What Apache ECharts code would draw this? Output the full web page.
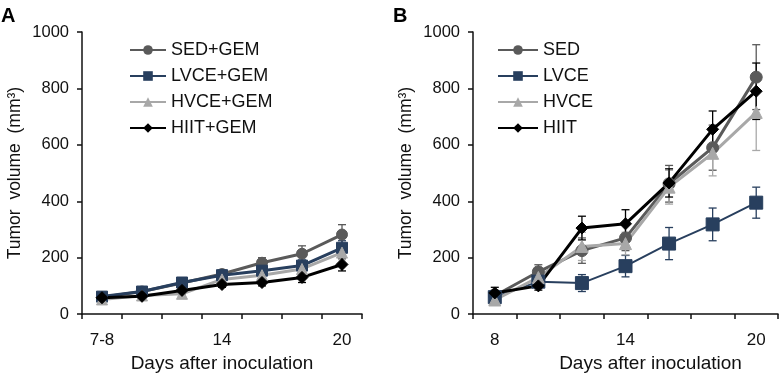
<!DOCTYPE html>
<html>
<head>
<meta charset="utf-8">
<script src="https://cdn.jsdelivr.net/npm/echarts@6/dist/echarts.min.js"></script>
<style>
html, body { margin: 0; padding: 0; background: #fff; }
#chart { width: 782px; height: 378px; }
</style>
</head>
<body>
<div id="chart"></div>
<script>
// tick labels (category axis)
var daysA = ['7-8', '', '', '14', '', '', '20'];
var daysB = ['8', '', '', '14', '', '', '20'];

// panel A: with GEM
var sedGem = [60, 80, 110, 142, 182, 214, 282];
var sedGemErr = [10, 12, 12, 12, 18, 28, 35];
var lvceGem = [62, 80, 112, 138, 154, 172, 235];
var lvceGemErr = [10, 12, 12, 12, 15, 20, 25];
var hvceGem = [52, 66, 72, 123, 138, 160, 218];
var hvceGemErr = [10, 12, 12, 12, 15, 15, 25];
var hiitGem = [58, 63, 84, 105, 112, 130, 176];
var hiitGemErr = [8, 10, 12, 10, 12, 18, 23];

// panel B: without GEM
var sed = [65, 150, 225, 270, 462, 590, 840];
var sedErr = [20, 25, 45, 45, 65, 80, 115];
var lvce = [60, 115, 110, 170, 250, 318, 395];
var lvceErr = [20, 15, 30, 38, 57, 58, 55];
var hvce = [50, 130, 240, 250, 450, 570, 715];
var hvceErr = [15, 20, 50, 40, 60, 80, 135];
var hiit = [75, 100, 305, 320, 465, 655, 790];
var hiitErr = [20, 15, 42, 50, 50, 65, 100];

var FONT = 'Liberation Sans, Arial, sans-serif';
var colSed = '#5a5a5a', colLvce = '#283f5e', colHvce = '#a8a8a8', colHiit = '#000000';

//误差线
var fnErrRender = function(params, api) {
	var x = api.value(0), y = api.value(1), e = api.value(2);
	var hi = api.coord([x, y + e]);
	var lo = api.coord([x, y - e]);
	var w = 4;
	var st = { stroke: api.visual('color'), lineWidth: 1.3 };
	return {
		type: 'group',
		children: [
			{ type: 'line', shape: { x1: hi[0], y1: hi[1], x2: lo[0], y2: lo[1] }, style: st },
			{ type: 'line', shape: { x1: hi[0] - w, y1: hi[1], x2: hi[0] + w, y2: hi[1] }, style: st },
			{ type: 'line', shape: { x1: lo[0] - w, y1: lo[1], x2: lo[0] + w, y2: lo[1] }, style: st }
		]
	};
};

var fnErrSeries = function(vals, errs, color, idx) {
	var data = [];
	for(var i = 0; i < vals.length; i++) {
		data.push([i, vals[i], errs[i]]);
	}
	return {
		type: 'custom',
		xAxisIndex: idx,
		yAxisIndex: idx,
		renderItem: fnErrRender,
		itemStyle: { color: color },
		encode: { x: 0, y: 1 },
		data: data,
		z: 3,
		silent: true
	};
};

var fnLineSeries = function(name, vals, color, symbol, size, width, idx) {
	return {
		name: name,
		type: 'line',
		xAxisIndex: idx,
		yAxisIndex: idx,
		data: vals,
		symbol: symbol,
		symbolSize: size,
		lineStyle: { color: color, width: width },
		itemStyle: { color: color, borderColor: color },
		z: 4,
		animation: false
	};
};

var fnXAxis = function(cats, idx, namePad) {
	return {
		type: 'category',
		gridIndex: idx,
		data: cats,
		boundaryGap: true,
		name: 'Days after inoculation',
		nameLocation: 'middle',
		nameGap: 35,
		nameTextStyle: { fontFamily: FONT, fontSize: 19, color: '#111', padding: namePad },
		axisLine: { lineStyle: { color: '#111', width: 1.5 } },
		axisTick: { show: true, inside: false, length: 5, interval: 0, lineStyle: { color: '#111', width: 1.5 } },
		axisLabel: { interval: 0, margin: 18, fontFamily: FONT, fontSize: 17, color: '#111' },
		splitLine: { show: false }
	};
};

var fnYAxis = function(idx) {
	return {
		type: 'value',
		gridIndex: idx,
		min: 0,
		max: 1000,
		interval: 200,
		name: 'Tumor  volume  (mm³)',
		nameLocation: 'middle',
		nameGap: 58,
		nameTextStyle: { fontFamily: FONT, fontSize: 17.5, color: '#111' },
		axisLine: { show: true, lineStyle: { color: '#111', width: 1.5 } },
		axisTick: { show: true, length: 5, lineStyle: { color: '#111', width: 1.5 } },
		axisLabel: {
			margin: 13, fontFamily: FONT, fontSize: 16.5, color: '#111',
			formatter: function(v) { return String(v); }
		},
		splitLine: { show: false }
	};
};

var fnLegend = function(names, left, w) {
	return {
		orient: 'vertical',
		left: left,
		top: 36,
		padding: 5,
		itemWidth: w,
		itemHeight: 12,
		itemGap: 8,
		data: names,
		textStyle: { fontFamily: FONT, fontSize: 18, color: '#111', lineHeight: 18 }
	};
};

var chart = echarts.init(document.getElementById('chart'));
var option = {
	backgroundColor: '#fff',
	animation: false,
	title: [
		{ text: 'A', left: -4, top: 1, textStyle: { fontFamily: FONT, fontSize: 20, fontWeight: 'bold', color: '#000' } },
		{ text: 'B', left: 388, top: 1, textStyle: { fontFamily: FONT, fontSize: 20, fontWeight: 'bold', color: '#000' } }
	],
	legend: [
		fnLegend(['SED+GEM', 'LVCE+GEM', 'HVCE+GEM', 'HIIT+GEM'], 124, 36),
		fnLegend(['SED', 'LVCE', 'HVCE', 'HIIT'], 492, 40)
	],
	grid: [
		{ left: 82, right: 420, top: 32, bottom: 61 },
		{ left: 473, right: 4, top: 32, bottom: 61 }
	],
	xAxis: [fnXAxis(daysA, 0, [0, 0, 0, 0]), fnXAxis(daysB, 1, [0, 0, 0, 50])],
	yAxis: [fnYAxis(0), fnYAxis(1)],
	series: [
		fnLineSeries('SED+GEM', sedGem, colSed, 'circle', 11, 3, 0),
		fnLineSeries('LVCE+GEM', lvceGem, colLvce, 'rect', 11, 3, 0),
		fnLineSeries('HVCE+GEM', hvceGem, colHvce, 'triangle', 11, 3, 0),
		fnLineSeries('HIIT+GEM', hiitGem, colHiit, 'diamond', 12, 3, 0),
		fnErrSeries(sedGem, sedGemErr, colSed, 0),
		fnErrSeries(lvceGem, lvceGemErr, colLvce, 0),
		fnErrSeries(hvceGem, hvceGemErr, colHvce, 0),
		fnErrSeries(hiitGem, hiitGemErr, colHiit, 0),
		fnLineSeries('SED', sed, colSed, 'circle', 12, 3, 1),
		fnLineSeries('LVCE', lvce, colLvce, 'rect', 13, 2, 1),
		fnLineSeries('HVCE', hvce, colHvce, 'triangle', 12, 3, 1),
		fnLineSeries('HIIT', hiit, colHiit, 'diamond', 12, 3, 1),
		fnErrSeries(sed, sedErr, colSed, 1),
		fnErrSeries(lvce, lvceErr, colLvce, 1),
		fnErrSeries(hvce, hvceErr, colHvce, 1),
		fnErrSeries(hiit, hiitErr, colHiit, 1)
	]
};
chart.setOption(option);
</script>
</body>
</html>
